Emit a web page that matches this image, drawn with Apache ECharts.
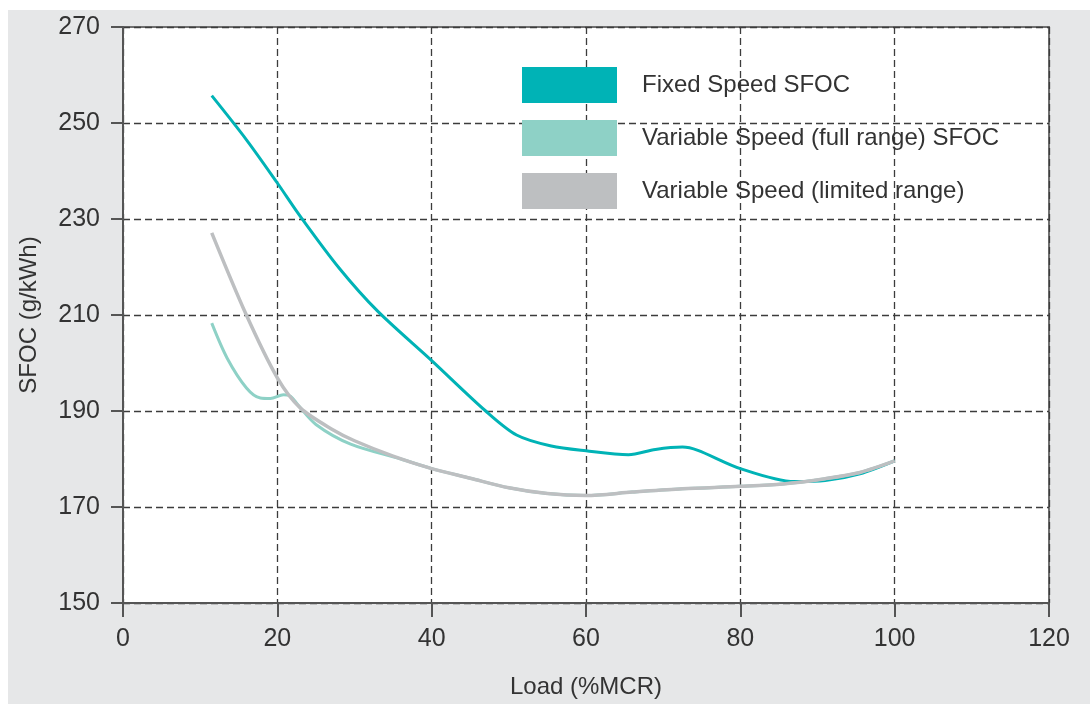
<!DOCTYPE html>
<html>
<head>
<meta charset="utf-8">
<script src="https://cdn.jsdelivr.net/npm/echarts@6/dist/echarts.min.js"></script>
<style>
  html, body { margin: 0; padding: 0; background: #ffffff; }
  #bg { position: absolute; left: 8px; top: 10px; width: 1082px; height: 694px; background: #e6e7e8; }
  #chart { position: absolute; left: 0; top: 0; width: 1090px; height: 704px; }
</style>
</head>
<body>
<div id="bg"></div>
<div id="chart"></div>
<script>
// Data
var seriesNames = ['Fixed Speed SFOC', 'Variable Speed (full range) SFOC', 'Variable Speed (limited range)'];

var loadFixed = [11.5, 16, 20, 23, 28, 33, 40, 47, 51, 55.5, 60, 65.5, 69, 72.5, 74.5, 80, 87, 91, 95.5, 100];
var sfocFixed = [255.7, 246.5, 237.5, 230.5, 219.8, 210.8, 200.5, 190, 185, 182.7, 181.7, 180.9, 182, 182.5, 181.8, 178, 175.3, 175.5, 176.9, 179.6];

var loadFull = [11.5, 13.5, 16, 17.8, 19.1, 20.8, 21.7, 22.6, 25, 29.5, 36, 40, 45, 50, 55, 60, 66, 72.5, 80, 85.5, 91, 95.5, 100];
var sfocFull = [208.3, 201, 194.8, 192.7, 192.6, 193.4, 193.1, 191.4, 187.2, 183.1, 180, 178, 176, 174, 172.8, 172.4, 173.1, 173.8, 174.3, 174.8, 175.9, 177.2, 179.6];

var loadLimited = [11.5, 15.9, 20, 23, 27.3, 30, 35, 40, 45, 50, 55, 60, 66, 72.5, 80, 85.5, 91, 95.5, 100];
var sfocLimited = [227.1, 210.3, 196.9, 190.6, 186, 183.8, 180.6, 178, 176, 174, 172.8, 172.4, 173.1, 173.8, 174.3, 174.8, 175.9, 177.2, 179.6];

var xTicks = [0, 20, 40, 60, 80, 100, 120];
var yTicks = [150, 170, 190, 210, 230, 250, 270];

var colors = ['#00b3b6', '#8ed1c6', '#bdbfc1'];

function pairs(xs, ys) { return xs.map(function (x, i) { return [x, ys[i]]; }); }

var font = '"Liberation Sans", Arial, Helvetica, sans-serif';
var chart = echarts.init(document.getElementById('chart'));
var gridStyle = { type: [7, 4], color: '#3c3c3c', width: 1.3 };

chart.setOption({
  backgroundColor: 'transparent',
  animation: false,
  textStyle: { fontFamily: font },
  grid: {
    left: 123, top: 27, width: 926, height: 580,
    show: true, backgroundColor: '#ffffff', borderColor: '#707070', borderWidth: 2
  },
  legend: {
    orient: 'vertical',
    left: 517, top: 62,
    itemWidth: 95, itemHeight: 36, itemGap: 17,
    icon: 'rect',
    data: seriesNames,
    textStyle: { fontSize: 24, color: '#333', fontFamily: font, padding: [0, 0, 0, 20] }
  },
  xAxis: {
    type: 'value', min: xTicks[0], max: xTicks[xTicks.length - 1], interval: 20,
    name: 'Load (%MCR)', nameLocation: 'middle', nameGap: 72,
    nameTextStyle: { fontSize: 24, color: '#333', fontFamily: font },
    axisLine: { show: true, lineStyle: { color: '#555', width: 2 } },
    axisTick: { show: true, length: 14, lineStyle: { color: '#555', width: 2 } },
    axisLabel: { fontSize: 25, color: '#333', margin: 24, fontFamily: font },
    splitLine: { show: true, lineStyle: gridStyle }
  },
  yAxis: {
    type: 'value', min: yTicks[0], max: yTicks[yTicks.length - 1], interval: 20,
    name: 'SFOC (g/kWh)', nameLocation: 'middle', nameGap: 82,
    nameTextStyle: { fontSize: 24, color: '#333', fontFamily: font },
    axisLine: { show: true, lineStyle: { color: '#555', width: 2 } },
    axisTick: { show: true, length: 12, lineStyle: { color: '#555', width: 2 } },
    axisLabel: { fontSize: 25, color: '#333', margin: 23, fontFamily: font },
    splitLine: { show: true, lineStyle: gridStyle }
  },
  series: [
    {
      name: seriesNames[0], type: 'line', smooth: 0.3, showSymbol: false,
      data: pairs(loadFixed, sfocFixed),
      itemStyle: { color: colors[0] }, lineStyle: { color: colors[0], width: 3 }, z: 3
    },
    {
      name: seriesNames[1], type: 'line', smooth: 0.3, showSymbol: false,
      data: pairs(loadFull, sfocFull),
      itemStyle: { color: colors[1] }, lineStyle: { color: colors[1], width: 3 }, z: 4
    },
    {
      name: seriesNames[2], type: 'line', smooth: 0.3, showSymbol: false,
      data: pairs(loadLimited, sfocLimited),
      itemStyle: { color: colors[2] }, lineStyle: { color: colors[2], width: 3.5 }, z: 5
    }
  ]
});
</script>
</body>
</html>
